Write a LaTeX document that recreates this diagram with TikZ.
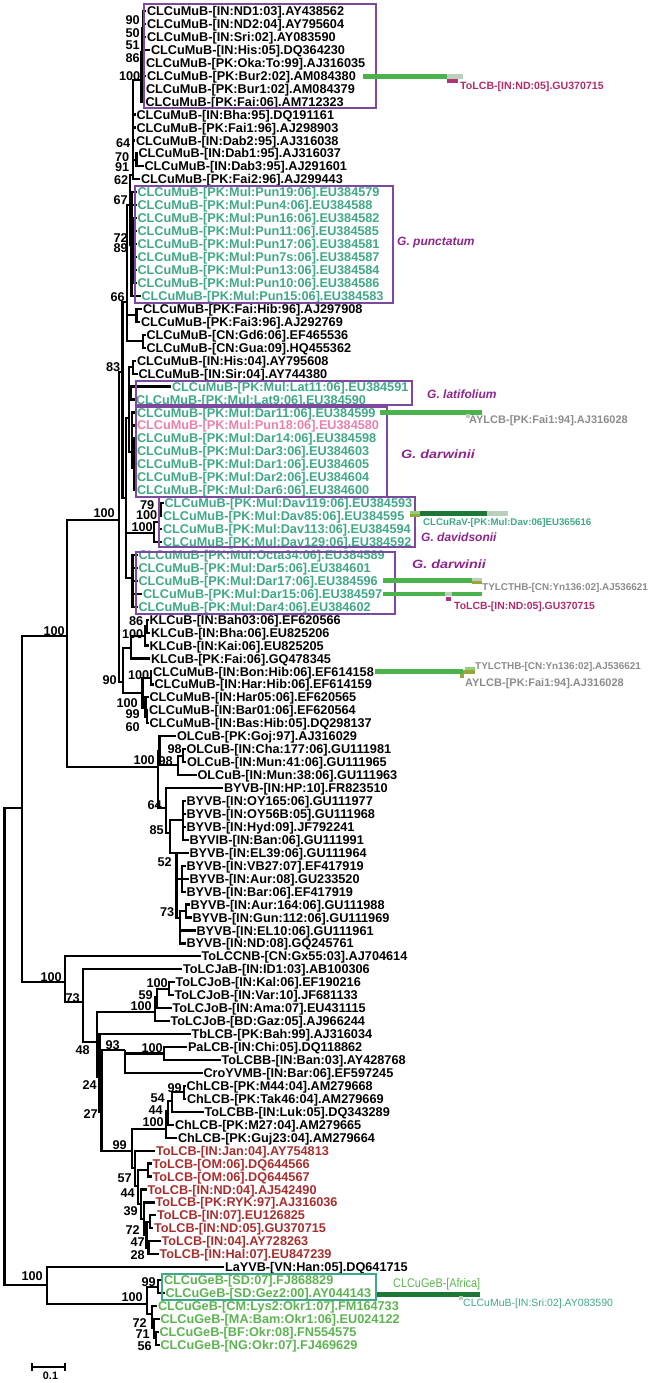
\documentclass[tikz,border=0pt]{standalone}
\usepackage{fontspec}
\setmainfont{Liberation Sans}
\definecolor{tealL}{RGB}{64,168,136}
\definecolor{pinkL}{RGB}{232,128,176}
\definecolor{redL}{RGB}{168,46,46}
\definecolor{greenL}{RGB}{92,180,80}
\definecolor{boxP}{RGB}{125,72,160}
\definecolor{boxT}{RGB}{60,168,140}
\definecolor{spec}{RGB}{142,36,140}
\definecolor{barG}{RGB}{76,178,76}
\definecolor{barD}{RGB}{28,120,52}
\definecolor{barL}{RGB}{188,206,188}
\definecolor{barM}{RGB}{178,50,118}
\definecolor{barO}{RGB}{150,168,56}
\definecolor{barLG}{RGB}{150,205,120}
\definecolor{grayL}{RGB}{140,140,140}
\definecolor{magL}{RGB}{176,44,108}
\newcommand\tipnode[5]{\node[lab,text=#4] (#1) at (#2,{11+12.95*#3}) {#5};}
\newcommand\bsn[4]{\node[bs] (#1) at (#2,#3) {#4};}
\begin{document}
\begin{tikzpicture}[x=1pt,y=-1pt,
 lab/.style={anchor=west,inner sep=0.8pt,font=\fontsize{12.7}{13}\selectfont\bfseries,text height=9.1pt,text depth=0pt},
 bs/.style={anchor=east,inner sep=0pt,font=\fontsize{12.7}{13}\selectfont\bfseries,text height=9pt,text depth=0pt},
 br/.style={line width=2.2pt},
 cbox/.style={draw=boxP,line width=1.9pt},
 sp/.style={anchor=west,inner sep=0pt,text=spec,font=\fontsize{12}{13}\selectfont\bfseries\itshape,text height=8.6pt,text depth=0pt},
]
\useasboundingbox (0,0) rectangle (652,1383);

% ---------- tips ----------
\tipnode{t0}{146}{0}{black}{CLCuMuB-[IN:ND1:03].AY438562}
\tipnode{t1}{146}{1}{black}{CLCuMuB-[IN:ND2:04].AY795604}
\tipnode{t2}{146}{2}{black}{CLCuMuB-[IN:Sri:02].AY083590}
\tipnode{t3}{150}{3}{black}{CLCuMuB-[IN:His:05].DQ364230}
\tipnode{t4}{145}{4}{black}{CLCuMuB-[PK:Oka:To:99].AJ316035}
\tipnode{t5}{146}{5}{black}{CLCuMuB-[PK:Bur2:02].AM084380}
\tipnode{t6}{145}{6}{black}{CLCuMuB-[PK:Bur1:02].AM084379}
\tipnode{t7}{144.5}{7}{black}{CLCuMuB-[PK:Fai:06].AM712323}
\tipnode{t8}{135.5}{8}{black}{CLCuMuB-[IN:Bha:95].DQ191161}
\tipnode{t9}{135.5}{9}{black}{CLCuMuB-[PK:Fai1:96].AJ298903}
\tipnode{t10}{135}{10}{black}{CLCuMuB-[IN:Dab2:95].AJ316038}
\tipnode{t11}{137.5}{11}{black}{CLCuMuB-[IN:Dab1:95].AJ316037}
\tipnode{t12}{143.5}{12}{black}{CLCuMuB-[IN:Dab3:95].AJ291601}
\tipnode{t13}{140}{13}{black}{CLCuMuB-[PK:Fai2:96].AJ299443}
\tipnode{t14}{136.5}{14}{tealL}{CLCuMuB-[PK:Mul:Pun19:06].EU384579}
\tipnode{t15}{136.5}{15}{tealL}{CLCuMuB-[PK:Mul:Pun4:06].EU384588}
\tipnode{t16}{136.5}{16}{tealL}{CLCuMuB-[PK:Mul:Pun16:06].EU384582}
\tipnode{t17}{136.5}{17}{tealL}{CLCuMuB-[PK:Mul:Pun11:06].EU384585}
\tipnode{t18}{136.5}{18}{tealL}{CLCuMuB-[PK:Mul:Pun17:06].EU384581}
\tipnode{t19}{136.5}{19}{tealL}{CLCuMuB-[PK:Mul:Pun7s:06].EU384587}
\tipnode{t20}{136.5}{20}{tealL}{CLCuMuB-[PK:Mul:Pun13:06].EU384584}
\tipnode{t21}{136.5}{21}{tealL}{CLCuMuB-[PK:Mul:Pun10:06].EU384586}
\tipnode{t22}{140.5}{22}{tealL}{CLCuMuB-[PK:Mul:Pun15:06].EU384583}
\tipnode{t23}{142}{23}{black}{CLCuMuB-[PK:Fai:Hib:96].AJ297908}
\tipnode{t24}{140}{24}{black}{CLCuMuB-[PK:Fai3:96].AJ292769}
\tipnode{t25}{145.5}{25}{black}{CLCuMuB-[CN:Gd6:06].EF465536}
\tipnode{t26}{145.5}{26}{black}{CLCuMuB-[CN:Gua:09].HQ455362}
\tipnode{t27}{136}{27}{black}{CLCuMuB-[IN:His:04].AY795608}
\tipnode{t28}{137.5}{28}{black}{CLCuMuB-[IN:Sir:04].AY744380}
\tipnode{t29}{171}{29}{tealL}{CLCuMuB-[PK:Mul:Lat11:06].EU384591}
\tipnode{t30}{135}{30}{tealL}{CLCuMuB-[PK:Mul:Lat9:06].EU384590}
\tipnode{t31}{136}{31}{tealL}{CLCuMuB-[PK:Mul:Dar11:06].EU384599}
\tipnode{t32}{136}{32}{pinkL}{CLCuMuB-[PK:Mul:Pun18:06].EU384580}
\tipnode{t33}{136}{33}{tealL}{CLCuMuB-[PK:Mul:Dar14:06].EU384598}
\tipnode{t34}{136}{34}{tealL}{CLCuMuB-[PK:Mul:Dar3:06].EU384603}
\tipnode{t35}{136}{35}{tealL}{CLCuMuB-[PK:Mul:Dar1:06].EU384605}
\tipnode{t36}{136}{36}{tealL}{CLCuMuB-[PK:Mul:Dar2:06].EU384604}
\tipnode{t37}{136}{37}{tealL}{CLCuMuB-[PK:Mul:Dar6:06].EU384600}
\tipnode{t38}{163.5}{38}{tealL}{CLCuMuB-[PK:Mul:Dav119:06].EU384593}
\tipnode{t39}{162}{39}{tealL}{CLCuMuB-[PK:Mul:Dav85:06].EU384595}
\tipnode{t40}{162}{40}{tealL}{CLCuMuB-[PK:Mul:Dav113:06].EU384594}
\tipnode{t41}{162}{41}{tealL}{CLCuMuB-[PK:Mul:Dav129:06].EU384592}
\tipnode{t42}{137.5}{42}{tealL}{CLCuMuB-[PK:Mul:Octa34:06].EU384589}
\tipnode{t43}{137.5}{43}{tealL}{CLCuMuB-[PK:Mul:Dar5:06].EU384601}
\tipnode{t44}{137.5}{44}{tealL}{CLCuMuB-[PK:Mul:Dar17:06].EU384596}
\tipnode{t45}{142}{45}{tealL}{CLCuMuB-[PK:Mul:Dar15:06].EU384597}
\tipnode{t46}{137.5}{46}{tealL}{CLCuMuB-[PK:Mul:Dar4:06].EU384602}
\tipnode{t47}{148.5}{47}{black}{KLCuB-[IN:Bah03:06].EF620566}
\tipnode{t48}{150}{48}{black}{KLCuB-[IN:Bha:06].EU825206}
\tipnode{t49}{148.5}{49}{black}{KLCuB-[IN:Kai:06].EU825205}
\tipnode{t50}{150}{50}{black}{KLCuB-[PK:Fai:06].GQ478345}
\tipnode{t51}{152}{51}{black}{CLCuMuB-[IN:Bon:Hib:06].EF614158}
\tipnode{t52}{153.5}{52}{black}{CLCuMuB-[IN:Har:Hib:06].EF614159}
\tipnode{t53}{148.5}{53}{black}{CLCuMuB-[IN:Har05:06].EF620565}
\tipnode{t54}{148}{54}{black}{CLCuMuB-[IN:Bar01:06].EF620564}
\tipnode{t55}{148.5}{55}{black}{CLCuMuB-[IN:Bas:Hib:05].DQ298137}
\tipnode{t56}{176}{56}{black}{OLCuB-[PK:Goj:97].AJ316029}
\tipnode{t57}{185.5}{57}{black}{OLCuB-[IN:Cha:177:06].GU111981}
\tipnode{t58}{186}{58}{black}{OLCuB-[IN:Mun:41:06].GU111965}
\tipnode{t59}{196.5}{59}{black}{OLCuB-[IN:Mun:38:06].GU111963}
\tipnode{t60}{223}{60}{black}{BYVB-[IN:HP:10].FR823510}
\tipnode{t61}{185.5}{61}{black}{BYVB-[IN:OY165:06].GU111977}
\tipnode{t62}{185.5}{62}{black}{BYVB-[IN:OY56B:05].GU111968}
\tipnode{t63}{185.5}{63}{black}{BYVB-[IN:Hyd:09].JF792241}
\tipnode{t64}{188.5}{64}{black}{BYVIB-[IN:Ban:06].GU111991}
\tipnode{t65}{188.5}{65}{black}{BYVB-[IN:EL39:06].GU111964}
\tipnode{t66}{185.5}{66}{black}{BYVB-[IN:VB27:07].EF417919}
\tipnode{t67}{188.5}{67}{black}{BYVB-[IN:Aur:08].GU233520}
\tipnode{t68}{185.5}{68}{black}{BYVB-[IN:Bar:06].EF417919}
\tipnode{t69}{189.5}{69}{black}{BYVB-[IN:Aur:164:06].GU111988}
\tipnode{t70}{191.5}{70}{black}{BYVB-[IN:Gun:112:06].GU111969}
\tipnode{t71}{195.5}{71}{black}{BYVB-[IN:EL10:06].GU111961}
\tipnode{t72}{185.5}{72}{black}{BYVB-[IN:ND:08].GQ245761}
\tipnode{t73}{200.5}{73}{black}{ToLCCNB-[CN:Gx55:03].AJ704614}
\tipnode{t74}{182}{74}{black}{ToLCJaB-[IN:ID1:03].AB100306}
\tipnode{t75}{174.5}{75}{black}{ToLCJoB-[IN:Kal:06].EF190216}
\tipnode{t76}{173.5}{76}{black}{ToLCJoB-[IN:Var:10].JF681133}
\tipnode{t77}{171.5}{77}{black}{ToLCJoB-[IN:Ama:07].EU431115}
\tipnode{t78}{169.5}{78}{black}{ToLCJoB-[BD:Gaz:05].AJ966244}
\tipnode{t79}{190.5}{79}{black}{TbLCB-[PK:Bah:99].AJ316034}
\tipnode{t80}{187}{80}{black}{PaLCB-[IN:Chi:05].DQ118862}
\tipnode{t81}{220.5}{81}{black}{ToLCBB-[IN:Ban:03].AY428768}
\tipnode{t82}{202.5}{82}{black}{CroYVMB-[IN:Bar:06].EF597245}
\tipnode{t83}{185.5}{83}{black}{ChLCB-[PK:M44:04].AM279668}
\tipnode{t84}{186}{84}{black}{ChLCB-[PK:Tak46:04].AM279669}
\tipnode{t85}{203.5}{85}{black}{ToLCBB-[IN:Luk:05].DQ343289}
\tipnode{t86}{174}{86}{black}{ChLCB-[PK:M27:04].AM279665}
\tipnode{t87}{177}{87}{black}{ChLCB-[PK:Guj23:04].AM279664}
\tipnode{t88}{155}{88}{redL}{ToLCB-[IN:Jan:04].AY754813}
\tipnode{t89}{151.5}{89}{redL}{ToLCB-[OM:06].DQ644566}
\tipnode{t90}{151.5}{90}{redL}{ToLCB-[OM:06].DQ644567}
\tipnode{t91}{146.5}{91}{redL}{ToLCB-[IN:ND:04].AJ542490}
\tipnode{t92}{154.5}{92}{redL}{ToLCB-[PK:RYK:97].AJ316036}
\tipnode{t93}{156}{93}{redL}{ToLCB-[IN:07].EU126825}
\tipnode{t94}{153}{94}{redL}{ToLCB-[IN:ND:05].GU370715}
\tipnode{t95}{160.5}{95}{redL}{ToLCB-[IN:04].AY728263}
\tipnode{t96}{158.5}{96}{redL}{ToLCB-[IN:Hal:07].EU847239}
\tipnode{t97}{224}{97}{black}{LaYVB-[VN:Han:05].DQ641715}
\tipnode{t98}{163}{98}{greenL}{CLCuGeB-[SD:07].FJ868829}
\tipnode{t99}{164.5}{99}{greenL}{CLCuGeB-[SD:Gez2:00].AY044143}
\tipnode{t100}{157}{100}{greenL}{CLCuGeB-[CM:Lys2:Okr1:07].FM164733}
\tipnode{t101}{159.5}{101}{greenL}{CLCuGeB-[MA:Bam:Okr1:06].EU024122}
\tipnode{t102}{158.5}{102}{greenL}{CLCuGeB-[BF:Okr:08].FN554575}
\tipnode{t103}{159.5}{103}{greenL}{CLCuGeB-[NG:Okr:07].FJ469629}

% ---------- internal nodes ----------
\coordinate (B90) at (143.5,17.5);
\coordinate (B50) at (143,28);
\coordinate (B51) at (142.5,40);
\coordinate (B86) at (142,52);
\coordinate (nbox) at (141.5,80);
\coordinate (T) at (133,175);
\coordinate (D) at (136.5,160);
\coordinate (X) at (130,205);
\coordinate (P) at (131.5,245);
\coordinate (P72) at (133.5,250);
\coordinate (FH) at (136.5,315);
\coordinate (GG) at (143,341);
\coordinate (V) at (127,302);
\coordinate (U) at (122.5,372);
\coordinate (HS) at (133,367);
\coordinate (LT) at (131,393);
\coordinate (DR) at (132,452);
\coordinate (DR2) at (134,468);
\coordinate (Wa) at (129,418);
\coordinate (Dv1) at (161,510);
\coordinate (Dv2) at (159,522);
\coordinate (Dv3) at (154,533);
\coordinate (Wb) at (132.5,578);
\coordinate (W) at (126,498);
\coordinate (K2) at (147,626);
\coordinate (K1) at (145,636);
\coordinate (K0) at (131,648);
\coordinate (Hb) at (151,678);
\coordinate (H1b) at (146.8,717);
\coordinate (H1) at (145.5,708);
\coordinate (H0) at (142.5,693);
\coordinate (N90) at (123,682);
\coordinate (A1a) at (119,520);
\coordinate (OL2) at (183,755.6);
\coordinate (OL1) at (178,765);
\coordinate (OLC) at (159.5,751);
\coordinate (BYc) at (183,820);
\coordinate (BYd) at (182,879);
\coordinate (BYe) at (186,911);
\coordinate (BY73) at (180,918);
\coordinate (BY52) at (176.5,853);
\coordinate (BY85) at (170,833);
\coordinate (BY64) at (166,808);
\coordinate (A1b) at (158,767);
\coordinate (A1) at (67,636);
\coordinate (A2) at (65,982);
\coordinate (A2b) at (83,1002);
\coordinate (J1) at (169,988.7);
\coordinate (J2) at (157,997);
\coordinate (J3) at (155,1012);
\coordinate (A2c) at (97,1042);
\coordinate (Pa) at (164,1053.5);
\coordinate (N93) at (125,1050);
\coordinate (A2e) at (101.5,1112);
\coordinate (A2d) at (99.5,1077);
\coordinate (Ch99) at (184,1092.3);
\coordinate (Ch54) at (172,1101);
\coordinate (Ch44) at (168,1111);
\coordinate (ChC) at (166,1129);
\coordinate (OMp) at (148,1170);
\coordinate (TBa) at (150,1222);
\coordinate (TB47) at (148.5,1248);
\coordinate (TB72) at (146.5,1235);
\coordinate (TB39) at (144,1219);
\coordinate (TB44) at (141,1204);
\coordinate (TB57) at (138,1186);
\coordinate (TB) at (135,1168);
\coordinate (LCB99) at (132,1151);
\coordinate (GSD) at (158,1287);
\coordinate (GC71) at (156,1338);
\coordinate (GC72) at (154,1328);
\coordinate (GC) at (152,1314);
\coordinate (G0) at (147,1304);
\coordinate (B) at (47,1285);
\coordinate (A) at (22,808);
\coordinate (R) at (4.5,1000);

% ---------- branches ----------
\foreach \p/\c in {B90/t0.west,B90/t1.west,B50/B90,B50/t2.west,B51/B50,B51/t3.west,B86/B51,B86/t4.west,
 nbox/B86,nbox/t5.west,nbox/t6.west,nbox/t7.west,
 T/nbox,T/t8.west,T/t9.west,T/t10.west,T/D,T/t13.west,D/t11.west,D/t12.west,
 X/T,X/P,P/t14.west,P/t15.west,P/P72,P/t22.west,
 P72/t16.west,P72/t17.west,P72/t18.west,P72/t19.west,P72/t20.west,P72/t21.west,
 V/X,V/FH,V/GG,FH/t23.west,FH/t24.west,GG/t25.west,GG/t26.west,
 U/V,U/W,W/Wa,W/Dv3,W/Wb,Wa/HS,Wa/LT,Wa/DR,HS/t27.west,HS/t28.west,LT/t29.west,LT/t30.west,
 DR/t31.west,DR/t32.west,DR/DR2,DR2/t33.west,DR2/t34.west,DR2/t35.west,DR2/t36.west,DR2/t37.west,
 Dv3/Dv2,Dv3/t41.west,Dv2/Dv1,Dv2/t40.west,Dv1/t38.west,Dv1/t39.west,
 Wb/t42.west,Wb/t43.west,Wb/t44.west,Wb/t45.west,Wb/t46.west,
 A1a/U,A1a/N90,N90/K0,N90/H0,K0/K1,K0/t50.west,K1/K2,K1/t49.west,K2/t47.west,K2/t48.west,
 H0/Hb,H0/H1,Hb/t51.west,Hb/t52.west,H1/t53.west,H1/H1b,H1b/t54.west,H1b/t55.west,
 A1/A1a,A1/A1b,A1b/OLC,A1b/BY64,OLC/t56.west,OLC/OL1,OL1/OL2,OL1/t59.west,OL2/t57.west,OL2/t58.west,
 BY64/t60.west,BY64/BY85,BY85/BYc,BY85/BY52,BYc/t61.west,BYc/t62.west,BYc/t63.west,BYc/t64.west,
 BY52/t65.west,BY52/BYd,BY52/BY73,BYd/t66.west,BYd/t67.west,BYd/t68.west,
 BY73/BYe,BY73/t71.west,BY73/t72.west,BYe/t69.west,BYe/t70.west,
 A/A1,A/A2,A2/t73.west,A2/A2b,A2b/t74.west,A2b/A2c,A2c/J3,A2c/A2d,J3/J2,J3/t78.west,J2/J1,J2/t77.west,J1/t75.west,J1/t76.west,
 A2d/t79.west,A2d/A2e,A2e/N93,A2e/LCB99,N93/Pa,N93/t82.west,Pa/t80.west,Pa/t81.west,
 LCB99/ChC,LCB99/TB,ChC/Ch44,ChC/t87.west,Ch44/Ch54,Ch44/t86.west,Ch54/Ch99,Ch54/t85.west,Ch99/t83.west,Ch99/t84.west,
 TB/t88.west,TB/TB57,TB57/OMp,TB57/TB44,OMp/t89.west,OMp/t90.west,TB44/t91.west,TB44/TB39,TB39/t92.west,TB39/TB72,
 TB72/TBa,TB72/TB47,TBa/t93.west,TBa/t94.west,TB47/t95.west,TB47/t96.west,
 R/A,R/B,B/t97.west,B/G0,G0/GSD,G0/GC,GSD/t98.west,GSD/t99.west,GC/t100.west,GC/GC72,GC72/t101.west,GC72/GC71,GC71/t102.west,GC71/t103.west}
 \draw[br] (\p) |- (\c);

% ---------- bootstrap values ----------
\bsn{bs1}{140}{20}{90}
\bsn{bs2}{140}{33}{50}
\bsn{bs3}{140}{45}{51}
\bsn{bs4}{140}{58}{86}
\bsn{bs5}{140.5}{76}{100}
\bsn{bs6}{130.5}{143}{64}
\bsn{bs7}{129.5}{157}{70}
\bsn{bs8}{129.5}{167}{91}
\bsn{bs9}{128.5}{180}{62}
\bsn{bs10}{128}{200}{67}
\bsn{bs11}{128}{238}{72}
\bsn{bs12}{128}{248}{89}
\bsn{bs13}{125}{297}{66}
\bsn{bs14}{120.5}{367}{83}
\bsn{bs15}{154.5}{505}{79}
\bsn{bs16}{157.5}{515}{100}
\bsn{bs17}{153}{527}{100}
\bsn{bs18}{115}{513}{100}
\bsn{bs19}{143.5}{621}{86}
\bsn{bs20}{143.5}{634}{100}
\bsn{bs21}{117}{680}{90}
\bsn{bs22}{149.5}{675}{100}
\bsn{bs23}{138}{703}{100}
\bsn{bs24}{140}{714}{99}
\bsn{bs25}{140}{727}{60}
\bsn{bs26}{65}{631}{100}
\bsn{bs27}{155}{760}{100}
\bsn{bs28}{182}{749}{98}
\bsn{bs29}{173}{761}{98}
\bsn{bs30}{162}{805}{64}
\bsn{bs31}{164}{830}{85}
\bsn{bs32}{172}{862}{52}
\bsn{bs33}{174.5}{912}{73}
\bsn{bs34}{62}{977}{100}
\bsn{bs35}{80}{998}{73}
\bsn{bs36}{168}{983}{100}
\bsn{bs37}{153}{995}{59}
\bsn{bs38}{152}{1006}{100}
\bsn{bs39}{90}{1050}{48}
\bsn{bs40}{120}{1045}{93}
\bsn{bs41}{163}{1048}{100}
\bsn{bs42}{97}{1085}{24}
\bsn{bs43}{98}{1114}{27}
\bsn{bs44}{182}{1088}{99}
\bsn{bs45}{165}{1098}{54}
\bsn{bs46}{163}{1110}{44}
\bsn{bs47}{164}{1122}{100}
\bsn{bs48}{127}{1145}{99}
\bsn{bs49}{132}{1178}{57}
\bsn{bs50}{135}{1193}{44}
\bsn{bs51}{138}{1211}{39}
\bsn{bs52}{140}{1230}{72}
\bsn{bs53}{145}{1242}{47}
\bsn{bs54}{145}{1255}{28}
\bsn{bs55}{43}{1276}{100}
\bsn{bs56}{143}{1297}{100}
\bsn{bs57}{156}{1282}{99}
\bsn{bs58}{147}{1323}{72}
\bsn{bs59}{150}{1334}{71}
\bsn{bs60}{152}{1346}{56}

% ---------- clade boxes ----------
\draw[cbox] (144,4) rectangle (376,108);
\draw[cbox] (135,186) rectangle (393,303);
\draw[cbox] (136,381) rectangle (412,405);
\draw[cbox] (136,407) rectangle (387,497);
\draw[cbox] (159,497) rectangle (415,547);
\draw[cbox] (136,552) rectangle (395,614);
\draw[draw=boxT,line width=1.9pt] (162,1274) rectangle (376,1300);

% ---------- species labels ----------
\node[sp] (sp1) at (397,241) {G. punctatum};
\node[sp] (sp2) at (427,394) {G. latifolium};
\node[sp] (sp3) at (401,454) {\scalebox{1.2}[1]{G. darwinii}};
\node[sp] (sp4) at (421,537) {G. davidsonii};
\node[sp] (sp5) at (412,564) {\scalebox{1.2}[1]{G. darwinii}};

% ---------- recombination bars ----------
% Bur2
\fill[barG] (363,74.3) rectangle (447,78.7);
\fill[barL] (447,74.3) rectangle (463,78.7);
\fill[barM] (447,79.5) rectangle (458,83);
\node[anchor=west,inner sep=0pt,text=magL,font=\fontsize{10.6}{12}\selectfont\bfseries,text height=7.6pt,text depth=0pt] (rc1) at (460,86) {ToLCB-[IN:ND:05].GU370715};
% Dar11
\fill[barG] (380,410.2) rectangle (482,414.6);
\fill[barL] (466,413.5) rectangle (470,418);
\node[anchor=west,inner sep=0pt,text=grayL,font=\fontsize{11}{12}\selectfont\bfseries,text height=7.9pt,text depth=0pt] (rc2) at (469,420) {AYLCB-[PK:Fai1:94].AJ316028};
% Dav85
\fill[barLG] (410,510.5) rectangle (420,514);
\fill[barO] (410,514) rectangle (420,517);
\fill[barD] (420,510.5) rectangle (487,515.5);
\fill[barL] (487,510.5) rectangle (508,515.5);
\node[anchor=west,inner sep=0pt,text=tealL,font=\fontsize{9.7}{11}\selectfont\bfseries,text height=7pt,text depth=0pt] (rc3) at (423,522) {CLCuRaV-[PK:Mul:Dav:06]EU365616};
% Dar17
\fill[barG] (383,578.4) rectangle (472,583);
\fill[barL] (472,578) rectangle (482,581);
\fill[barO] (472,581) rectangle (482,584);
\node[anchor=west,inner sep=0pt,text=grayL,font=\fontsize{9.9}{11}\selectfont\bfseries,text height=7.1pt,text depth=0pt] (rc4) at (482,586.5) {TYLCTHB-[CN:Yn136:02].AJ536621};
% Dar15
\fill[barG] (383,591.9) rectangle (482,596.4);
\fill[barL] (445,591.9) rectangle (452,596.4);
\fill[barM] (446,597) rectangle (451,601);
\node[anchor=west,inner sep=0pt,text=magL,font=\fontsize{10.4}{12}\selectfont\bfseries,text height=7.5pt,text depth=0pt] (rc5) at (454,606) {ToLCB-[IN:ND:05].GU370715};
% Bon:Hib
\fill[barG] (375,669.4) rectangle (463,674);
\fill[barO] (463,670) rectangle (475,674);
\fill[barLG] (465,667) rectangle (475,670);
\fill[barO] (460,674) rectangle (464,678);
\node[anchor=west,inner sep=0pt,text=grayL,font=\fontsize{9.9}{11}\selectfont\bfseries,text height=7.1pt,text depth=0pt] (rc6) at (475,666) {TYLCTHB-[CN:Yn136:02].AJ536621};
\node[anchor=west,inner sep=0pt,text=grayL,font=\fontsize{11}{12}\selectfont\bfseries,text height=7.9pt,text depth=0pt] (rc7) at (465,683) {AYLCB-[PK:Fai1:94].AJ316028};
% Gez2
\fill[barD] (377,1292) rectangle (480,1296.5);
\fill[barL] (459,1296) rectangle (463,1299.5);
\node[anchor=west,inner sep=0pt,text=greenL,font=\fontsize{12.5}{13}\selectfont,text height=9pt,text depth=0pt] (rc8) at (393,1283) {\scalebox{0.87}[1]{CLCuGeB-[Africa]}};
\node[anchor=west,inner sep=0pt,text=tealL,font=\fontsize{10.5}{12}\selectfont,text height=7.5pt,text depth=0pt] (rc9) at (463,1303) {CLCuMuB-[IN:Sri:02].AY083590};

% ---------- scale bar ----------
\coordinate (sb1) at (32,1367);
\coordinate (sb2) at (65,1367);
\draw[line width=1.8pt] (sb1) -- (sb2);
\draw[line width=1.8pt] ([yshift=-4pt]sb1) -- ([yshift=4pt]sb1);
\draw[line width=1.8pt] ([yshift=-4pt]sb2) -- ([yshift=4pt]sb2);
\node[inner sep=0pt,font=\fontsize{10.8}{12}\selectfont\bfseries] (sbl) at (50.5,1376) {0.1};
\end{tikzpicture}
\end{document}
